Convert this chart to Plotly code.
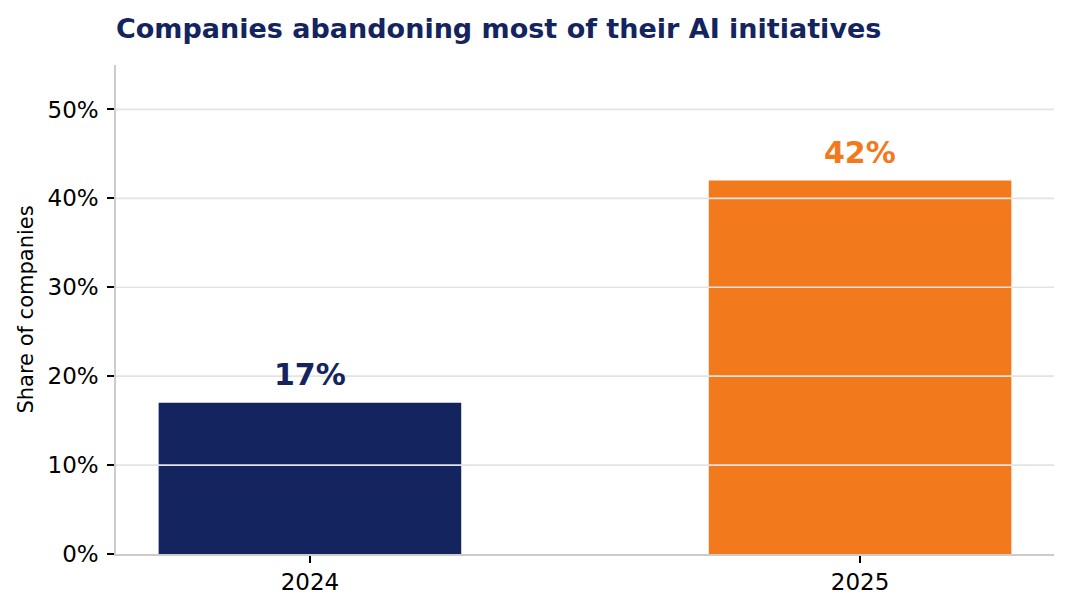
import plotly.graph_objects as go

categories = ["2024", "2025"]
values = [17, 42]
bar_colors = ["#13245E", "#F27A1D"]
label_texts = ["17%", "42%"]
y_ticks = [0, 10, 20, 30, 40, 50]
y_tick_labels = ["0%", "10%", "20%", "30%", "40%", "50%"]
title_text = "Companies abandoning most of their AI initiatives"
y_title = "Share of companies"

FONT = "DejaVu Sans"

fig = go.Figure()
fig.add_trace(go.Bar(
    x=categories, y=values, marker=dict(color=bar_colors, line=dict(width=0)),
    width=0.55, showlegend=False, hoverinfo="skip",
))

for i, (v, t, col) in enumerate(zip(values, label_texts, bar_colors)):
    fig.add_annotation(x=i, y=v, xref="x", yref="y", text=f"<b>{t}</b>", showarrow=False,
                       yanchor="bottom", yshift=9,
                       font=dict(family=FONT, size=30, color=col))

# gridlines drawn above bars
for v in y_ticks[1:]:
    fig.add_shape(type="line", xref="paper", x0=0, x1=1, yref="y", y0=v, y1=v,
                  line=dict(color="#E3E3E3", width=1.7), layer="above")

fig.update_layout(
    width=1071, height=612,
    margin=dict(l=116, r=17, t=65, b=58),
    paper_bgcolor="white", plot_bgcolor="white",
    font=dict(family=FONT, color="black"),
    title=dict(text=f"<b>{title_text}</b>", x=116/1071, xref="container", xanchor="left",
               y=1-29/612, yref="container", yanchor="middle",
               font=dict(family=FONT, size=27, color="#13245E")),
    bargap=0.45,
)
fig.update_xaxes(
    type="category",
    range=[-0.3525, 1.3525], showline=True, linecolor="#CCCCCC", linewidth=1.5,
    ticks="outside", ticklen=7, tickwidth=1.5, tickcolor="black",
    tickfont=dict(family=FONT, size=23, color="black"), showgrid=False,
    zeroline=False,
)
fig.update_yaxes(
    range=[0, 55], tickvals=y_ticks, ticktext=y_tick_labels,
    showline=True, linecolor="#CCCCCC", linewidth=1.5,
    ticks="outside", ticklen=7, tickwidth=1.5, tickcolor="black",
    ticklabelstandoff=4,
    tickfont=dict(family=FONT, size=23, color="black"), showgrid=False, zeroline=False,
    title=dict(text=y_title, font=dict(family=FONT, size=21, color="black"), standoff=8),
)

fig.write_html("out.html")
